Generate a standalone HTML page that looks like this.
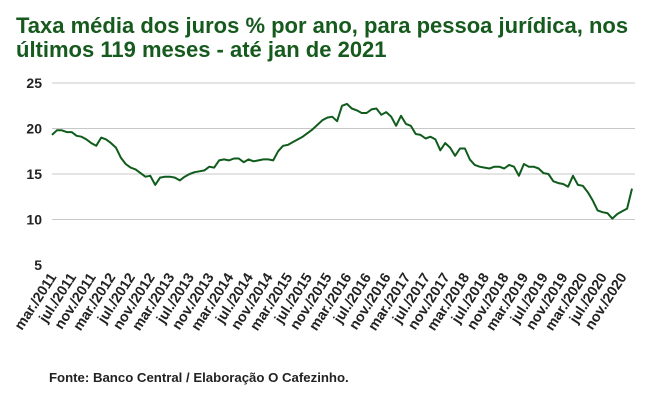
<!DOCTYPE html>
<html><head><meta charset="utf-8">
<style>
body{margin:0;background:#fff;width:647px;height:400px;overflow:hidden;font-family:"Liberation Sans",sans-serif;}
#title{position:absolute;left:16px;top:14px;font-size:22px;font-weight:bold;color:#165a1e;line-height:24px;width:635px;}
#foot{position:absolute;left:49px;top:370px;font-size:13.2px;font-weight:bold;color:#222;}
svg{position:absolute;left:0;top:0;}
</style></head><body>
<div id="title">Taxa média dos juros % por ano, para pessoa jurídica, nos últimos 119 meses - até jan de 2021</div>
<svg id="chart" width="647" height="400"></svg>
<div id="foot">Fonte: Banco Central / Elaboração O Cafezinho.</div>
<script>
const yTicks=[5,10,15,20,25];
const months=["mar","jul","nov"];
const startYear=2011;
const rates=[19.3,19.8,19.8,19.6,19.6,19.2,19.1,18.8,18.4,18.1,19.0,
18.8,18.4,17.9,16.8,16.1,15.7,15.5,15.1,14.7,14.8,
13.8,14.6,14.7,14.7,14.6,14.3,14.7,15.0,15.2,15.3,
15.4,15.8,15.7,16.5,16.6,16.5,16.7,16.7,16.3,16.6,
16.4,16.5,16.6,16.6,16.5,17.5,18.1,18.2,18.5,18.8,
19.1,19.5,19.9,20.4,20.9,21.2,21.3,20.8,22.5,22.7,
22.2,22.0,21.7,21.7,22.1,22.2,21.5,21.8,21.3,20.3,
21.4,20.5,20.3,19.4,19.3,18.9,19.1,18.8,17.6,18.4,
17.9,17.0,17.8,17.8,16.6,16.0,15.8,15.7,15.6,15.8,
15.8,15.6,16.0,15.8,14.8,16.1,15.8,15.8,
15.6,15.1,15.0,14.2,14.0,13.9,13.6,14.8,13.8,13.7,13.0,12.1,11.0,10.8,10.7,10.1,10.6,10.9,11.2,13.4];
const svg=document.getElementById('chart');
const NS='http://www.w3.org/2000/svg';
const x0=52,x1=632,yTop=83,yBot=265;
const xs=i=>x0+(x1-x0)*i/(rates.length-1);
const ys=v=>yBot-(v-5)/20*(yBot-yTop);
function mk(t,a){const e=document.createElementNS(NS,t);for(const k in a)e.setAttribute(k,a[k]);svg.appendChild(e);return e;}
yTicks.forEach(v=>{
 if(v>5){const g=mk('line',{x1:x0,x2:635,y1:ys(v),y2:ys(v),stroke:'#c8c8c8','stroke-width':1});
 
 }
 const t=mk('text',{x:42,y:ys(v)+5,'text-anchor':'end','font-size':14,'font-weight':'bold',fill:'#222','font-family':'Liberation Sans'});
 t.textContent=v;
 
 
});
for(let i=0;i<rates.length-2;i+=4){
 const k=i/4;const m=months[k%3];
 const year=startYear+Math.floor((i+2)/12);
 const x=xs(i)+5,y=277;
 const t=mk('text',{x:x,y:y,'text-anchor':'end','font-size':14.3,'font-weight':'bold',fill:'#222','font-family':'Liberation Sans',transform:`rotate(-57 ${x} ${y})`});
 t.textContent=m+'./'+year;
 
 
}
const p=mk('polyline',{points:rates.map((v,i)=>xs(i).toFixed(1)+','+ys(v).toFixed(1)).join(' '),fill:'none',stroke:'#0f5c1c','stroke-width':2,'stroke-linejoin':'round'});


</script>
</body></html>
